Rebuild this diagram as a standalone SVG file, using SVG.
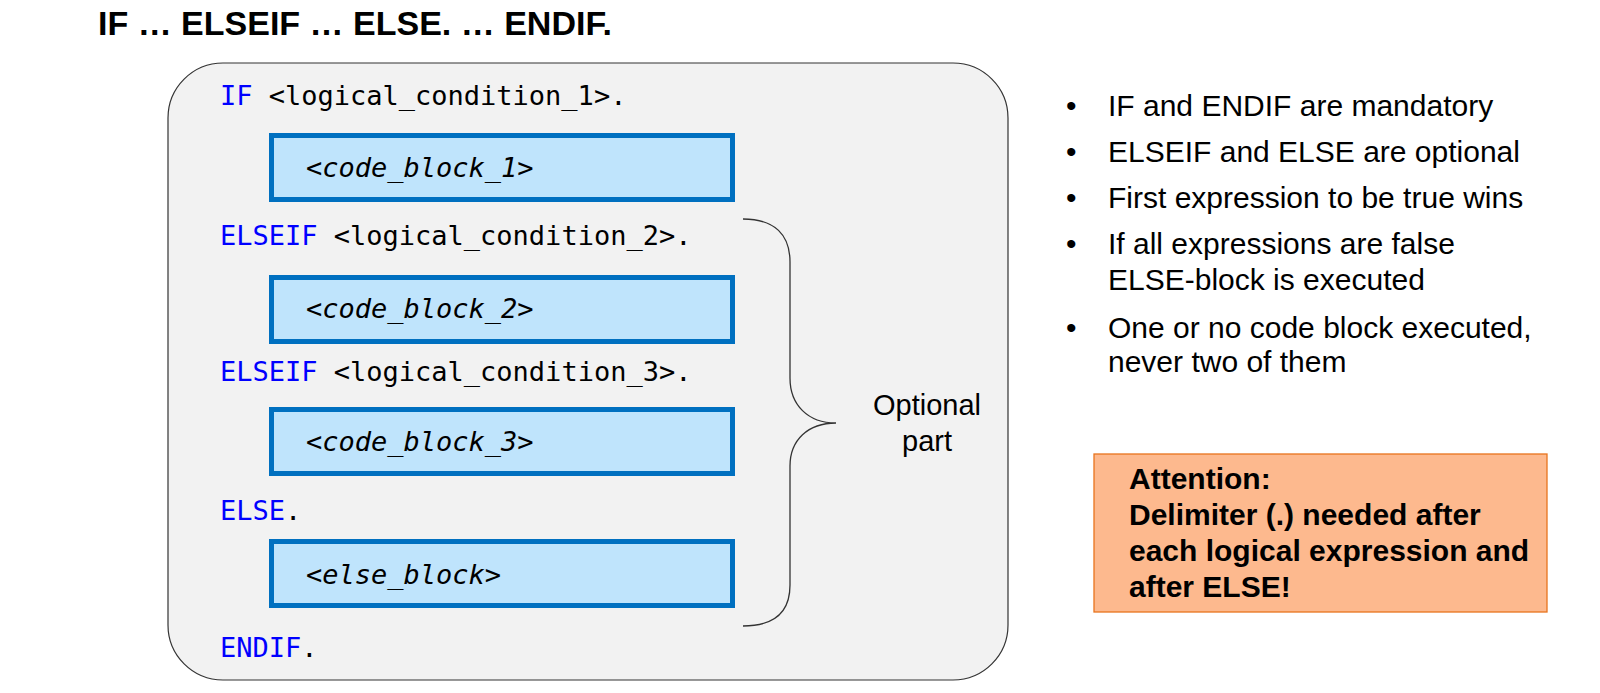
<svg xmlns="http://www.w3.org/2000/svg" width="1600" height="693" viewBox="0 0 1600 693">
<style>
.title{font-family:"Liberation Sans",Arial,sans-serif;font-weight:bold;font-size:34px;fill:#000}
.code{font-family:"DejaVu Sans Mono","Liberation Mono",monospace;font-size:27px;fill:#000}
.kw{fill:#0000ff}
.blk{fill:#bfe4fc;stroke:#0070c0;stroke-width:5}
.it{font-family:"DejaVu Sans Mono","Liberation Mono",monospace;font-size:27px;font-style:italic;fill:#000}
.txt{font-family:"Liberation Sans",Arial,sans-serif;font-size:30px;fill:#000}
.opt{font-family:"Liberation Sans",Arial,sans-serif;font-size:29px;fill:#000}
.att{font-family:"Liberation Sans",Arial,sans-serif;font-size:30px;font-weight:bold;fill:#000}
</style>
<rect width="1600" height="693" fill="#fff"/>
<text class="title" x="98" y="35">IF … ELSEIF … ELSE. … ENDIF.</text>
<g id="container">
<rect x="168" y="63" width="840" height="617" rx="55" ry="55" fill="#f2f2f2" stroke="#333" stroke-width="1.2"/>
</g>
<g id="if-line"><text class="code" x="220" y="105"><tspan class="kw">IF</tspan> &lt;logical_condition_1&gt;.</text></g>
<g id="code-block-1"><rect class="blk" x="271.5" y="135.5" width="461" height="64"/><text class="it" x="306" y="177">&lt;code_block_1&gt;</text></g>
<g id="elseif-line-2"><text class="code" x="220" y="245"><tspan class="kw">ELSEIF</tspan> &lt;logical_condition_2&gt;.</text></g>
<g id="code-block-2"><rect class="blk" x="271.5" y="277.5" width="461" height="64"/><text class="it" x="306" y="318">&lt;code_block_2&gt;</text></g>
<g id="elseif-line-3"><text class="code" x="220" y="381"><tspan class="kw">ELSEIF</tspan> &lt;logical_condition_3&gt;.</text></g>
<g id="code-block-3"><rect class="blk" x="271.5" y="409.5" width="461" height="64"/><text class="it" x="306" y="451">&lt;code_block_3&gt;</text></g>
<g id="else-line"><text class="code" x="220" y="520"><tspan class="kw">ELSE</tspan>.</text></g>
<g id="else-block"><rect class="blk" x="271.5" y="541.5" width="461" height="64"/><text class="it" x="306" y="584">&lt;else_block&gt;</text></g>
<g id="endif-line"><text class="code" x="220" y="657"><tspan class="kw">ENDIF</tspan>.</text></g>
<g id="connectors">
<path d="M743,219 C775,219 790,235 790,262 L790,378 C790,405 808,423 836,423 C808,423 790,440 790,466 L790,585 C790,612 775,626 743,626" fill="none" stroke="#333" stroke-width="1.3"/>
</g>
<g id="optional-label">
<text class="opt" x="927" y="415" text-anchor="middle">Optional</text>
<text class="opt" x="927" y="451" text-anchor="middle">part</text>
</g>
<g id="bullets">
<text class="txt" x="1066" y="116">•</text><text class="txt" x="1108" y="116">IF and ENDIF are mandatory</text>
<text class="txt" x="1066" y="162">•</text><text class="txt" x="1108" y="162">ELSEIF and ELSE are optional</text>
<text class="txt" x="1066" y="208">•</text><text class="txt" x="1108" y="208">First expression to be true wins</text>
<text class="txt" x="1066" y="254">•</text><text class="txt" x="1108" y="254">If all expressions are false</text>
<text class="txt" x="1108" y="290">ELSE-block is executed</text>
<text class="txt" x="1066" y="338">•</text><text class="txt" x="1108" y="338">One or no code block executed,</text>
<text class="txt" x="1108" y="372">never two of them</text>
</g>
<g id="attention">
<rect x="1094" y="454" width="453" height="158" fill="#fdb98e" stroke="#e8731e" stroke-width="1.3"/>
<text class="att" x="1129" y="489">Attention:</text>
<text class="att" x="1129" y="525">Delimiter (.) needed after</text>
<text class="att" x="1129" y="561">each logical expression and</text>
<text class="att" x="1129" y="597">after ELSE!</text>
</g>
</svg>
